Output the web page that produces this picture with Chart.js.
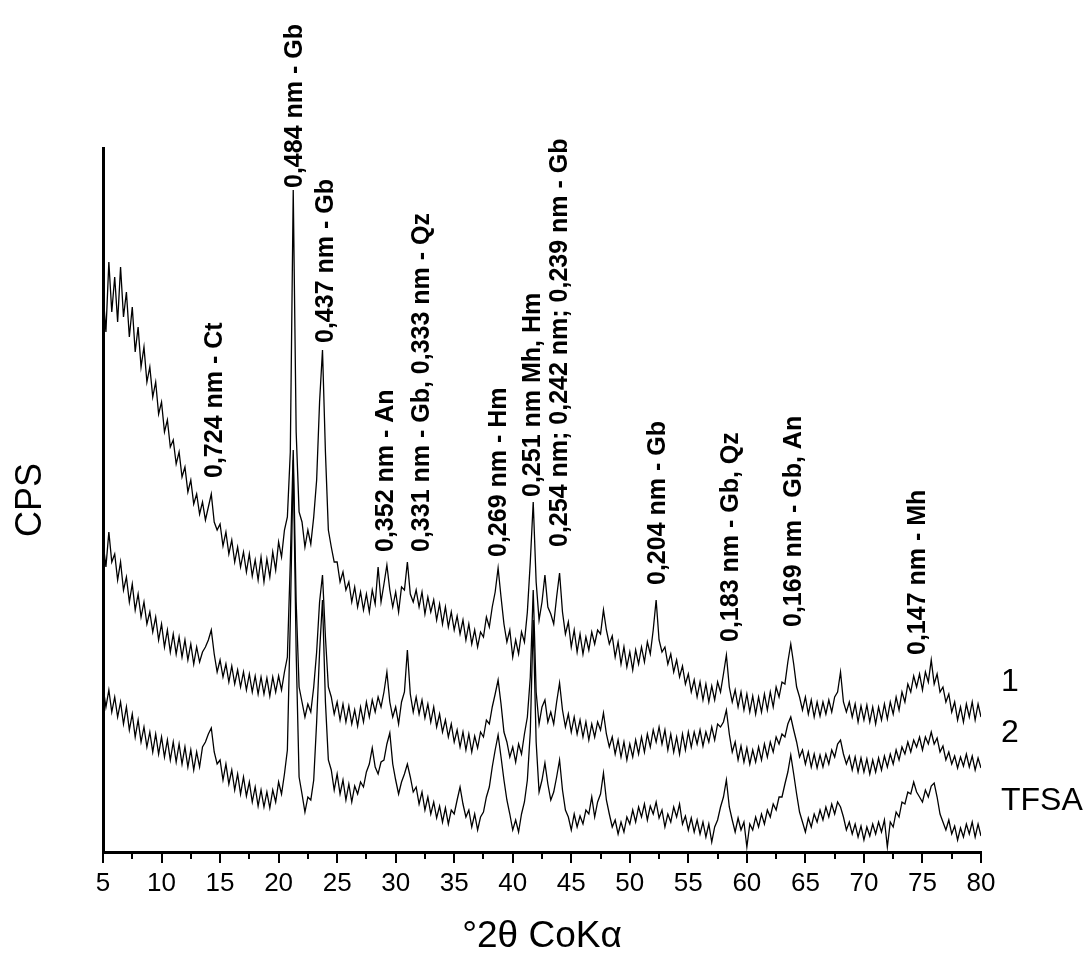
<!DOCTYPE html>
<html>
<head>
<meta charset="utf-8">
<script src="https://cdn.jsdelivr.net/npm/chart.js@4.4.1/dist/chart.umd.min.js"></script>
<style>
html, body { margin: 0; padding: 0; background: #fff; }
</style>
</head>
<body>
<canvas id="myChart" width="1091" height="968"></canvas>
<script>
// intervallo di scansione in gradi 2θ
var angolo_min = 5;
var angolo_max = 80;
var passo = 0.25;

// etichette dell'asse x
var tick_etichette = [5, 10, 15, 20, 25, 30, 35, 40, 45, 50, 55, 60, 65, 70, 75, 80];

// nomi delle tre curve (scritti a destra)
var nomi_serie = ['1', '2', 'TFSA'];

// intensità, una ogni 0,25° (una riga = un grado)
var serie_1 = [
    560, 520, 590, 540,
    575, 530, 585, 535,
    560, 515, 545, 500,
    525, 485, 505, 470,
    485, 455, 470, 438,
    450, 420, 432, 405,
    412, 388, 400, 375,
    385, 360, 372, 348,
    358, 338, 350, 332,
    345, 358, 330, 322,
    328, 306, 320, 298,
    312, 290, 305, 285,
    300, 280, 298, 276,
    292, 272, 295, 270,
    293, 275, 300, 282,
    310, 295, 322, 335,
    400, 662, 420, 340,
    330, 305, 322, 308,
    335, 372, 450, 502,
    400, 322, 305, 290,
    290, 270, 280, 262,
    270, 250, 265, 245,
    260, 242, 258, 240,
    262, 248, 285, 250,
    268, 287, 262, 245,
    260, 240, 265, 262,
    290, 258, 250, 262,
    245, 260, 238, 255,
    240, 252, 232, 248,
    228, 245, 225, 240,
    222, 236, 218, 232,
    212, 228, 208, 222,
    205, 220, 215, 235,
    225, 245, 260, 284,
    255, 228, 210, 222,
    195, 212, 198, 220,
    210, 240, 290, 350,
    270, 232, 250, 277,
    245, 238, 228, 255,
    279, 240, 218, 230,
    205, 222, 200, 218,
    198, 215, 202, 220,
    208, 222, 218, 242,
    222, 208, 216, 195,
    210, 188, 205, 185,
    200, 182, 202, 188,
    205, 190, 210, 198,
    222, 252, 212, 200,
    205, 188, 198, 180,
    192, 175, 186, 168,
    178, 160, 172, 155,
    170, 152, 168, 150,
    166, 152, 170, 160,
    178, 197, 165, 150,
    162, 145, 160, 142,
    158, 140, 156, 138,
    155, 140, 158, 142,
    160, 145, 165, 155,
    170, 168, 190, 208,
    188, 165, 155, 142,
    155, 138, 152, 135,
    150, 136, 150, 138,
    152, 140, 155, 160,
    180, 150, 140, 150,
    135, 148, 130, 146,
    132, 147, 130, 145,
    128, 145, 132, 148,
    133, 150, 138, 155,
    142, 160, 150, 168,
    160, 176, 165, 178,
    162, 180, 170, 192,
    168, 178, 160, 165,
    150, 158, 140, 150,
    132, 145, 130, 148,
    135, 150, 132, 148,
    135
];

var serie_2 = [
    310, 285, 320, 290,
    298, 272, 290, 262,
    275, 250, 268, 242,
    258, 235, 250, 228,
    240, 220, 235, 212,
    228, 205, 222, 200,
    218, 198, 215, 195,
    212, 192, 208, 188,
    205, 190, 200, 205,
    212, 222, 198, 180,
    192, 175, 188, 170,
    186, 168, 182, 165,
    180, 162, 178, 160,
    176, 158, 175, 158,
    174, 156, 175, 160,
    176, 162, 180, 195,
    290, 402, 250, 165,
    150, 135, 148, 140,
    165, 200, 250, 277,
    215, 165, 155, 138,
    150, 132, 148, 130,
    146, 128, 142, 126,
    145, 130, 150, 135,
    152, 140, 155, 145,
    160, 180, 150, 135,
    145, 128, 150, 160,
    202, 158, 140, 155,
    138, 152, 134, 148,
    130, 145, 125, 138,
    120, 132, 115, 128,
    110, 122, 105, 120,
    102, 118, 100, 116,
    104, 120, 115, 132,
    128, 145, 158, 172,
    148, 120, 110, 95,
    105, 90, 108, 98,
    118, 135, 175, 262,
    160, 128, 145, 152,
    130, 140, 128, 150,
    169, 142, 125, 138,
    120, 135, 118, 132,
    115, 130, 112, 128,
    115, 130, 122, 139,
    118, 105, 115, 98,
    112, 95, 110, 92,
    108, 95, 112, 98,
    115, 100, 118, 105,
    122, 110, 125, 108,
    122, 102, 118, 100,
    115, 98, 118, 102,
    120, 105, 120, 108,
    122, 106, 120, 110,
    125, 112, 128, 125,
    130, 142, 118, 100,
    110, 92, 106, 90,
    104, 88, 102, 90,
    105, 92, 108, 95,
    110, 100, 115, 108,
    118, 115, 128, 135,
    122, 110, 95, 102,
    88, 100, 85, 98,
    84, 97, 85, 98,
    88, 102, 95, 108,
    112, 98, 88, 96,
    82, 95, 80, 94,
    80, 93, 78, 92,
    80, 94, 82, 96,
    85, 98, 88, 102,
    92, 105, 98, 110,
    100, 112, 105, 115,
    102, 115, 108, 120,
    108, 114, 100, 106,
    92, 100, 88, 96,
    84, 95, 86, 98,
    85, 96, 82, 94,
    84
];

var serie_tfsa = [
    165, 145, 162, 140,
    155, 135, 150, 128,
    145, 122, 138, 115,
    132, 110, 125, 105,
    120, 100, 118, 98,
    115, 95, 112, 92,
    110, 90, 108, 88,
    105, 85, 102, 82,
    100, 85, 105, 110,
    118, 124, 100, 88,
    92, 72, 88, 68,
    82, 62, 78, 58,
    75, 56, 70, 50,
    65, 46, 62, 45,
    60, 44, 62, 50,
    70, 58, 78, 102,
    232, 392, 200, 75,
    58, 40, 55, 52,
    72, 130, 200, 252,
    150, 92, 82, 62,
    78, 58, 72, 52,
    68, 50, 66, 58,
    70, 65, 80, 88,
    104, 85, 78, 90,
    92, 108, 119, 88,
    72, 58, 70, 78,
    88, 75, 60, 65,
    48, 60, 42, 55,
    38, 50, 34, 46,
    30, 44, 28, 42,
    38, 52, 65, 48,
    35, 42, 25, 38,
    22, 35, 40, 55,
    65, 85, 102, 117,
    95, 72, 52, 38,
    22, 32, 20, 38,
    50, 72, 120, 232,
    110, 60, 72, 89,
    68, 52, 60, 75,
    92, 62, 42, 35,
    22, 38, 25, 36,
    28, 42, 38, 55,
    35, 50, 58, 79,
    52, 38, 25, 32,
    18, 30, 20, 35,
    28, 42, 30, 45,
    35, 48, 32, 46,
    38, 50, 34, 42,
    25, 38, 30, 45,
    35, 48, 28, 36,
    22, 34, 20, 32,
    18, 30, 15, 28,
    10, 25, 32, 45,
    55, 72, 45, 32,
    20, 34, 22, 30,
    5, 28, 22, 35,
    25, 38, 28, 42,
    35, 48, 42, 55,
    55, 68, 80, 97,
    78, 58, 40, 30,
    20, 34, 25, 38,
    30, 42, 32, 45,
    35, 48, 38, 50,
    45, 35, 22, 30,
    18, 28, 15, 26,
    12, 25, 16, 28,
    18, 30, 20, 32,
    5, 30, 25, 40,
    35, 50, 48, 60,
    58, 70, 60, 55,
    50, 62, 55, 66,
    69, 55, 38, 30,
    22, 32, 18, 26,
    12, 24, 15, 28,
    18, 30, 15, 28,
    16
];

// note sui picchi: testo, angolo 2θ e intensità da cui parte la scritta
var picchi_testo = [
    '0,724 nm - Ct',
    '0,484 nm - Gb',
    '0,437 nm - Gb',
    '0,352 nm - An',
    '0,331 nm - Gb, 0,333 nm - Qz',
    '0,269 nm - Hm',
    '0,251 nm Mh, Hm',
    '0,254 nm; 0,242 nm; 0,239 nm - Gb',
    '0,204 nm - Gb',
    '0,183 nm - Gb, Qz',
    '0,169 nm - Gb, An',
    '0,147 nm - Mh'
];
var picchi_angolo = [14.57, 21.4, 24.05, 29.17, 32.25, 38.83, 41.73, 44.04, 52.4, 58.64, 64.02, 74.6];
var picchi_base = [374, 664, 509, 300, 300, 295, 355, 305, 267, 210, 225, 197];

// griglia degli angoli, stessa lunghezza delle serie
var angoli = [];
for (var i = 0; i < serie_1.length; i++) {
    angoli.push(angolo_min + i * passo);
}

function punti(valori) {
    return valori.map(function (v, i) {
        return { x: angoli[i], y: v };
    });
}

var font_base = '"Liberation Sans", Arial, sans-serif';
Chart.defaults.font.family = font_base;
Chart.defaults.color = '#000';

// tacche minori, note sui picchi e nomi delle curve
var plugin_note = {
    id: 'note',
    afterDraw: function (chart) {
        var ctx = chart.ctx;
        var sx = chart.scales.x;
        var sy = chart.scales.y;
        ctx.save();
        ctx.strokeStyle = '#000';
        ctx.lineWidth = 2;
        for (var a = angolo_min + 2.5; a < angolo_max; a += 5) {
            var px = Math.round(sx.getPixelForValue(a));
            ctx.beginPath();
            ctx.moveTo(px, sy.bottom);
            ctx.lineTo(px, sy.bottom + 7);
            ctx.stroke();
        }

        ctx.fillStyle = '#000';
        ctx.font = 'bold 25px ' + font_base;
        ctx.textAlign = 'left';
        ctx.textBaseline = 'middle';
        for (var k = 0; k < picchi_testo.length; k++) {
            ctx.save();
            ctx.translate(sx.getPixelForValue(picchi_angolo[k]), sy.getPixelForValue(picchi_base[k]));
            ctx.rotate(-Math.PI / 2);
            ctx.fillText(picchi_testo[k], 0, 0);
            ctx.restore();
        }

        // il nome va poco sopra la fine della curva
        var tutte = [serie_1, serie_2, serie_tfsa];
        ctx.font = '32px ' + font_base;
        for (var s = 0; s < tutte.length; s++) {
            var coda = tutte[s].slice(-8);
            var media = coda.reduce(function (t, v) { return t + v; }, 0) / coda.length;
            ctx.fillText(nomi_serie[s], sx.right + 20, sy.getPixelForValue(media + 29));
        }
        ctx.restore();
    }
};

function curva(nome, valori) {
    return {
        label: nome,
        data: punti(valori),
        borderColor: '#000',
        borderWidth: 1.3,
        pointRadius: 0,
        tension: 0,
        fill: false
    };
}

var ctx = document.getElementById('myChart').getContext('2d');

var myChart = new Chart(ctx, {
    type: 'line',
    data: {
        datasets: [
            curva(nomi_serie[0], serie_1),
            curva(nomi_serie[1], serie_2),
            curva(nomi_serie[2], serie_tfsa)
        ]
    },
    options: {
        responsive: false,
        animation: false,
        layout: { padding: { top: 148, right: 110, left: 0, bottom: 0 } },
        plugins: {
            legend: { display: false },
            tooltip: { enabled: false }
        },
        scales: {
            x: {
                type: 'linear',
                min: angolo_min,
                max: angolo_max,
                afterFit: function (scale) { scale.height = 116; },
                afterBuildTicks: function (scale) {
                    scale.ticks = tick_etichette.map(function (v) { return { value: v }; });
                },
                ticks: {
                    autoSkip: false,
                    maxRotation: 0,
                    padding: 5,
                    font: { size: 26 },
                    color: '#000',
                    callback: function (v) { return String(v); }
                },
                grid: {
                    drawOnChartArea: false,
                    drawTicks: true,
                    tickLength: 11,
                    color: '#000',
                    lineWidth: 2
                },
                border: { display: true, color: '#000', width: 3 },
                title: {
                    display: true,
                    text: '°2θ CoKα',
                    font: { size: 37 },
                    color: '#000',
                    padding: { top: 0, bottom: 9 }
                }
            },
            y: {
                min: 0,
                max: 704,
                afterFit: function (scale) { scale.width = 103; },
                ticks: { display: false },
                grid: { display: false },
                border: { display: true, color: '#000', width: 3 },
                title: {
                    display: true,
                    text: 'CPS',
                    font: { size: 36 },
                    color: '#000',
                    padding: { top: 9, bottom: 0 }
                }
            }
        }
    },
    plugins: [plugin_note]
});
</script>
</body>
</html>
